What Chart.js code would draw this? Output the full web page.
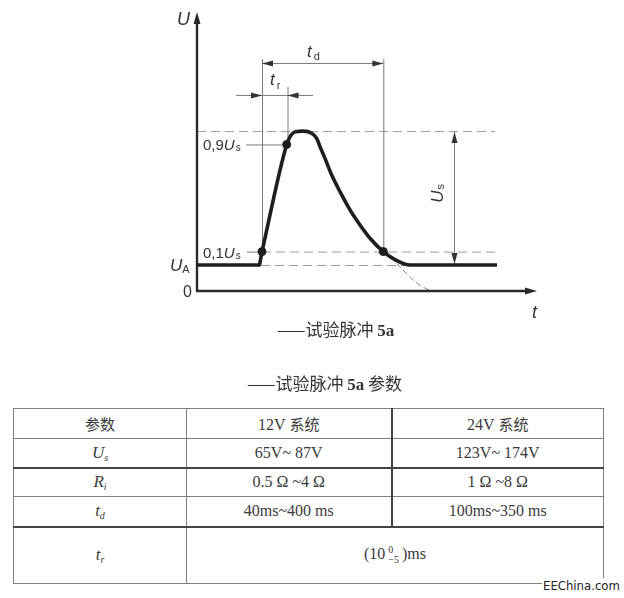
<!DOCTYPE html>
<html>
<head>
<meta charset="utf-8">
<script src="https://cdn.jsdelivr.net/npm/chart.js@4.4.1/dist/chart.umd.min.js"></script>
<style>
  html, body { margin: 0; padding: 0; background: #fff; }
  body { width: 624px; height: 598px; position: relative; overflow: hidden; }
  #pulse { position: absolute; left: 0; top: 0; }
  .cap { position: absolute; white-space: nowrap; color: #333; font-family: "Noto Sans CJK SC", sans-serif; font-size: 17px; line-height: 20px; }
  .cap b { font-family: "Liberation Serif", serif; font-weight: bold; font-size: 17px; }
  #params { position: absolute; left: 13px; top: 408px; border-collapse: collapse; table-layout: fixed; color: #3a3a3a;
            font-family: "Liberation Serif", "Noto Sans CJK SC", serif; font-size: 16px; }
  #params td { border: 1px solid #808080; text-align: center; vertical-align: middle; padding: 0; }
  #params .cn { font-family: "Noto Sans CJK SC", sans-serif; font-size: 15px; }
  #params i { font-family: "Liberation Serif", serif; font-size: 17px; }
  #params sub { font-size: 10px; vertical-align: -3px; line-height: 0; }
  .stack { display: inline-block; vertical-align: middle; font-size: 10px; line-height: 10px; text-align: left; margin: 0 3px 0 3px; }
  #mark { position: absolute; left: 542px; top: 578px; font-family: "DejaVu Sans Condensed", "DejaVu Sans", sans-serif; font-stretch: condensed;
          font-size: 13px; line-height: 16px; color: #222; background: #fff; padding: 0 1px; }
</style>
</head>
<body>
<canvas id="pulse" width="624" height="360"></canvas>
<div class="cap" style="left:277px; top:319px;">——试验脉冲 <b>5a</b></div>
<div class="cap" style="left:247px; top:373px;">——试验脉冲 <b>5a</b> 参数</div>
<table id="params"></table>
<div id="mark">EEChina.com</div>
<script>
// Test pulse 5a waveform (time in arbitrary units, voltage with U_A = 1)
const UA = 1.0;
const US = 5.15;                       // pulse amplitude above U_A
const pulseT = [0, 6.2, 6.5, 8.97, 9.3, 9.8, 10.63, 11.47, 11.97, 12.3, 12.8, 13.47, 14.3, 15.3, 16.3, 17.3, 18.63, 19.97, 21.3, 30.0];
const pulseU = [1.0, 1.0, 1.515, 5.635, 5.93, 6.12, 6.15, 6.07, 5.87, 5.55, 5.1, 4.46, 3.82, 3.12, 2.54, 2.03, 1.515, 1.17, 1.0, 1.0];
// Exponential decay continued down to 0 V (thin dashed)
const tailT = [18.63, 19.6, 20.6, 21.6, 22.6, 23.5];
const tailU = [1.515, 1.19, 0.81, 0.42, 0.15, 0.0];
// Marked points: 10 % rise, 90 % rise, 10 % fall
const markT = [6.5, 8.97, 18.63];
const markU = [1.515, 5.635, 1.515];

// Parameter table
const paramNames = ['参数', 'U|s', 'R|i', 't|d', 't|r'];
const sys12 = ['12V 系统', '65V~ 87V', '0.5 Ω ~4 Ω', '40ms~400 ms'];
const sys24 = ['24V 系统', '123V~ 174V', '1 Ω ~8 Ω', '100ms~350 ms'];
const riseTime = ['10', '0', '−5', ')ms'];

const pts = (xs, ys) => xs.map((v, i) => ({ x: v, y: ys[i] }));

const U10 = UA + 0.1 * US, U90 = UA + 0.9 * US, UPK = UA + US;

function line(ctx, x1, y1, x2, y2) { ctx.beginPath(); ctx.moveTo(x1, y1); ctx.lineTo(x2, y2); ctx.stroke(); }
function arrow(ctx, x, y, dir, len, half) {
  // dir: angle in radians pointing where the tip faces
  ctx.beginPath();
  ctx.moveTo(x, y);
  ctx.lineTo(x - len * Math.cos(dir) - half * Math.sin(dir), y - len * Math.sin(dir) + half * Math.cos(dir));
  ctx.lineTo(x - len * Math.cos(dir) + half * Math.sin(dir), y - len * Math.sin(dir) - half * Math.cos(dir));
  ctx.closePath(); ctx.fill();
}
function rich(ctx, parts, x, y) {
  let cx = x;
  for (const p of parts) {
    ctx.font = (p.it ? 'italic ' : '') + p.size + 'px "Liberation Sans", sans-serif';
    ctx.fillText(p.t, cx, y + (p.dy || 0));
    cx += ctx.measureText(p.t).width + (p.gap || 0);
  }
}

const guides = {
  id: 'guides',
  beforeDatasetsDraw(chart) {
    const { ctx, scales: { x, y } } = chart;
    const X = v => x.getPixelForValue(v), Y = v => y.getPixelForValue(v);
    ctx.save();
    // dashed reference levels
    ctx.strokeStyle = '#9c9c9c'; ctx.lineWidth = 1; ctx.setLineDash([9, 5]);
    line(ctx, X(0), Y(UPK) + 0.5, X(29.8), Y(UPK) + 0.5);
    line(ctx, X(6.5), Y(U10) + 0.5, X(29.8), Y(U10) + 0.5);
    line(ctx, X(6.4), Y(UA) + 0.5, X(29.8), Y(UA) + 0.5);
    ctx.setLineDash([]);
    // extension lines
    ctx.strokeStyle = '#7a7a7a';
    line(ctx, X(6.5) + 0.5, Y(8.92), X(6.5) + 0.5, Y(U10));
    line(ctx, X(18.63) + 0.5, Y(8.92), X(18.63) + 0.5, Y(U10));
    line(ctx, X(9.05) + 0.5, Y(7.85), X(9.05) + 0.5, Y(U90));
    // leaders for 0,9Us and 0,1Us
    line(ctx, X(4.9), Y(U90) + 0.5, X(8.97), Y(U90) + 0.5);
    line(ctx, X(5.0), Y(U10) + 0.5, X(6.5), Y(U10) + 0.5);
    // t_d dimension
    ctx.fillStyle = '#333';
    const yd = Y(8.77) + 0.5;
    line(ctx, X(6.5), yd, X(18.63), yd);
    arrow(ctx, X(6.5), yd, Math.PI, 11, 3);
    arrow(ctx, X(18.63), yd, 0, 11, 3);
    // t_r dimension (arrows from outside)
    const yr = Y(7.54) + 0.5;
    line(ctx, X(3.9), yr, X(11.6), yr);
    arrow(ctx, X(6.5), yr, 0, 11, 3);
    arrow(ctx, X(9.05), yr, Math.PI, 11, 3);
    // Us dimension
    const xu = X(25.7) + 0.5;
    line(ctx, xu, Y(UPK), xu, Y(UA));
    arrow(ctx, xu, Y(UPK) + 1, -Math.PI / 2, 11, 3);
    arrow(ctx, xu, Y(UA) - 1, Math.PI / 2, 11, 3);
    ctx.restore();
  },
  afterDatasetsDraw(chart) {
    const { ctx, scales: { x, y } } = chart;
    const X = v => x.getPixelForValue(v), Y = v => y.getPixelForValue(v);
    ctx.save();
    // axes with arrowheads
    ctx.strokeStyle = '#2a2a2a'; ctx.fillStyle = '#2a2a2a'; ctx.lineWidth = 2.4;
    const x0 = X(0), y0 = Y(0);
    line(ctx, x0, y0, x0, Y(y.max) + 8);
    line(ctx, x0 - 1, y0, X(x.max) - 8, y0);
    arrow(ctx, x0, Y(y.max), -Math.PI / 2, 12, 3.5);
    arrow(ctx, X(x.max), y0, 0, 12, 3.5);
    // labels
    ctx.fillStyle = '#333'; ctx.textBaseline = 'alphabetic';
    rich(ctx, [{ t: 'U', it: true, size: 18 }], x0 - 20, Y(y.max) + 13);
    rich(ctx, [{ t: 'U', it: true, size: 17 }, { t: 'A', size: 11, dy: 2 }], x0 - 27, Y(UA) + 6);
    rich(ctx, [{ t: '0', size: 16 }], x0 - 14, y0 + 6);
    rich(ctx, [{ t: 't', it: true, size: 18 }], X(x.max) - 5, y0 + 27);
    rich(ctx, [{ t: '0,9', size: 15 }, { t: 'U', it: true, size: 15, gap: 1 }, { t: 's', size: 10, dy: 1 }], X(0.6), Y(U90) + 6);
    rich(ctx, [{ t: '0,1', size: 15 }, { t: 'U', it: true, size: 15, gap: 1 }, { t: 's', size: 10, dy: 1 }], X(0.6), Y(U10) + 6);
    rich(ctx, [{ t: 't', it: true, size: 17, gap: 2 }, { t: 'd', size: 11, dy: 3 }], X(11.0), Y(8.77) - 6);
    rich(ctx, [{ t: 't', it: true, size: 17, gap: 2 }, { t: 'r', size: 11, dy: 4 }], X(7.3), Y(7.54) - 10);
    // rotated Us
    ctx.translate(X(24.6), Y(3.7));
    ctx.rotate(-Math.PI / 2);
    rich(ctx, [{ t: 'U', it: true, size: 17, gap: 1 }, { t: 's', size: 11, dy: 1 }], -8, 0);
    ctx.restore();
  }
};

new Chart(document.getElementById('pulse'), {
  type: 'scatter',
  data: {
    datasets: [
      { data: pts(markT, markU), showLine: false, pointRadius: 4, pointBackgroundColor: '#1e1e1e', pointBorderColor: '#1e1e1e', order: 0 },
      { data: pts(pulseT, pulseU), showLine: true, borderColor: '#1e1e1e', borderWidth: 3.6, pointRadius: 0, cubicInterpolationMode: 'monotone', borderJoinStyle: 'round', order: 1 },
      { data: pts(tailT, tailU), showLine: true, borderColor: '#8a8a8a', borderWidth: 1, borderDash: [6, 3], pointRadius: 0, cubicInterpolationMode: 'monotone', order: 2 }
    ]
  },
  options: {
    responsive: false,
    animation: false,
    devicePixelRatio: 1,
    layout: { padding: { left: 197, right: 87, top: 12, bottom: 69 } },
    scales: {
      x: { type: 'linear', display: false, min: 0, max: 34 },
      y: { type: 'linear', display: false, min: 0, max: 10.73 }
    },
    plugins: { legend: { display: false }, tooltip: { enabled: false } }
  },
  plugins: [guides]
});

// Build the parameter table
(function () {
  const tbl = document.getElementById('params');
  const colW = [173, 205, 212];
  const rowH = [30, 29, 29, 30, 57];
  const cg = document.createElement('colgroup');
  colW.forEach(w => { const c = document.createElement('col'); c.style.width = w + 'px'; cg.appendChild(c); });
  tbl.appendChild(cg);
  const sym = s => { const [a, b] = s.split('|'); return '<i>' + a + '<sub>' + b + '</sub></i>'; };
  const cell = txt => /[\u4e00-\u9fff]/.test(txt)
    ? txt.replace(/([\u4e00-\u9fff]+)/g, '<span class="cn">$1</span>') : txt;
  for (let r = 0; r < paramNames.length; r++) {
    const tr = document.createElement('tr');
    tr.style.height = rowH[r] + 'px';
    const c0 = document.createElement('td');
    c0.innerHTML = r === 0 ? cell(paramNames[r]) : sym(paramNames[r]);
    tr.appendChild(c0);
    if (r < 4) {
      const c1 = document.createElement('td'); c1.innerHTML = cell(sys12[r]);
      const c2 = document.createElement('td'); c2.innerHTML = cell(sys24[r]);
      c2.style.borderLeft = '2px solid #444';
      tr.appendChild(c1); tr.appendChild(c2);
    } else {
      const c1 = document.createElement('td'); c1.colSpan = 2;
      c1.innerHTML = '(' + riseTime[0] + '<span class="stack">' + riseTime[1] + '<br>' + riseTime[2] + '</span>' + riseTime[3];
      tr.appendChild(c1);
    }
    if (r === 1 || r === 3) [...tr.children].forEach(td => td.style.borderBottom = '2px solid #444');
    tbl.appendChild(tr);
  }
})();
</script>
</body>
</html>
